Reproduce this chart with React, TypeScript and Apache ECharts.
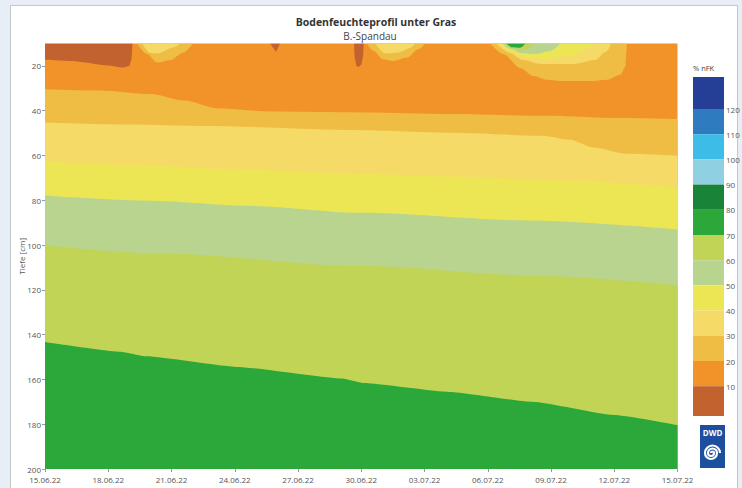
import React, { useEffect, useRef } from "react";
import * as echarts from "echarts";

// ---------- data ----------
// x: days after 15.06.22, y: depth in cm
const DATE_LABELS = ["15.06.22", "18.06.22", "21.06.22", "24.06.22", "27.06.22", "30.06.22", "03.07.22", "06.07.22", "09.07.22", "12.07.22", "15.07.22"];
const Y_TICKS = [20, 40, 60, 80, 100, 120, 140, 160, 180, 200];

// class colours, index 0 = <10 % nFK ... index 12 = >120 % nFK
const CLASS_COLORS = ["#c1622f", "#f2932a", "#efbd43", "#f5da68", "#ece655", "#b8d48f", "#c1d455", "#2ca739", "#198437", "#8fd1e2", "#3dbce8", "#2e7bc0", "#253f97"];
const CLASS_LIMITS = [10, 20, 30, 40, 50, 60, 70, 80, 90, 100, 110, 120];

// upper edges of the horizontal bands (depth where the class begins)
const EDGE_20 = [[0, 30.4], [2.6, 31], [5, 32.6], [6.6, 35.5], [8.2, 39], [10.8, 40.4], [15, 40.8], [19.2, 41.5], [23.6, 42.3], [27.3, 43.3], [30, 43.8]];
const EDGE_30 = [[0, 45.3], [4, 46.2], [7.4, 46.8], [15, 48.7], [19.2, 49.8], [23.6, 51.2], [24.9, 53], [26, 56.4], [27.6, 59.2], [30, 60.1]];
const EDGE_40 = [[0, 62.6], [5, 64.6], [9.7, 66.5], [15, 68.3], [19.7, 69.5], [24.4, 71.2], [30, 74.2]];
const EDGE_50 = [[0, 77.9], [5, 80.2], [9.7, 82.5], [15, 85.6], [22.9, 89], [30, 93]];
const EDGE_60 = [[0, 100.2], [5.6, 103.9], [15.1, 109.4], [23.1, 113.6], [30, 118]];
const EDGE_70 = [[0, 143.3], [3.65, 147.7], [4.8, 149.7], [9.1, 154.4], [14.1, 159.6], [15.1, 161.6], [19.2, 165.6], [23.1, 170], [27, 175.9], [30, 180.4]];

// features hanging from the surface (lower edges)
const BROWN_LEFT = [[0, 17.3], [1.5, 18], [3, 19.8], [3.7, 20.7], [4.0, 20], [4.1, 17], [4.15, 10]];
const GOLD_B1 = [[4.37, 10], [4.84, 14.7], [5.32, 18.5], [5.93, 17.5], [6.55, 14.1], [7.02, 10]];
const LIGHT_B1 = [[4.6, 10], [4.98, 14.1], [5.36, 14.5], [6.07, 11.8], [6.41, 10]];
const BROWN_TOOTH = [[10.68, 10], [10.96, 13.8], [11.15, 10]];
const BROWN_DRIP = [[14.66, 10], [14.7, 17], [14.78, 20], [14.88, 20.4], [15.0, 19.5], [15.08, 16], [15.12, 10]];
const GOLD_B2 = [[15.28, 10], [15.57, 13.3], [16.04, 17], [16.52, 17.8], [17.18, 16.3], [17.7, 12.6], [18.03, 10]];
const LIGHT_B2 = [[15.66, 10], [16.14, 14.5], [16.76, 14], [17.32, 12], [17.56, 10]];
const GOLD_B3 = [[21.12, 10], [21.74, 14.7], [22.54, 20.9], [23.16, 24.5], [23.83, 26.2], [24.44, 26.7], [26.01, 26.7], [26.67, 26.2], [27.29, 24], [27.53, 20.4], [27.58, 13.3], [27.6, 10]];
const LIGHT_B3 = [[21.4, 10], [22.07, 14.2], [22.64, 17.3], [23.49, 19.1], [25.15, 19.1], [26.1, 17.3], [26.62, 13.7], [26.86, 10]];
const YELLOW_B3 = [[21.6, 10], [22.07, 13.3], [22.78, 16], [23.73, 16.9], [24.92, 15.5], [25.86, 11.8], [26.1, 10]];
const PALEGREEN_B3 = [[21.69, 10], [22.07, 12.4], [22.54, 14.2], [23.25, 14.7], [23.97, 13.3], [24.44, 10]];
const OLIVE_B3 = [[21.78, 10], [22.16, 12], [22.78, 12.9], [23.16, 10]];
const GREEN_B3 = [[21.88, 10], [22.16, 11.7], [22.54, 11.9], [22.78, 10]];

// ---------- helpers ----------
const SPIRAL_D = "M0 0 A1.5 1.5 0 0 1 3 0 A3 3 0 0 1 -3 0 A4.5 4.5 0 0 1 6 0 A6 6 0 0 1 -6 0 A7.5 7.5 0 0 1 9 0";
echarts.graphic.registerShape("dwdSpiral", echarts.graphic.extendPath(SPIRAL_D, {}));

function area(name: string, data: number[][], cls: number, origin: "start" | "end", smooth = 0.3) {
  return {
    type: "line",
    name,
    data,
    symbol: "none",
    smooth,
    smoothMonotone: "x",
    silent: true,
    lineStyle: { width: 0, opacity: 0 },
    areaStyle: { color: CLASS_COLORS[cls], opacity: 1, origin },
  };
}

const FONT = '"Open Sans", "Liberation Sans", sans-serif';

function legendGraphics() {
  const els: any[] = [];
  const x = 693, w = 31, top = 77, step = 25.2, bottom = 416;
  const yOf = (lim: number) => top + 32 + ((120 - lim) / 10) * step;
  for (let c = 12; c >= 0; c--) {
    const y0 = c === 12 ? top : yOf(CLASS_LIMITS[c]);
    const y1 = c === 0 ? bottom : yOf(CLASS_LIMITS[c - 1]);
    els.push({ type: "rect", shape: { x, y: y0, width: w, height: y1 - y0 }, style: { fill: CLASS_COLORS[c] }, silent: true });
  }
  CLASS_LIMITS.forEach((lim) => {
    els.push({ type: "text", x: x + w + 2, y: yOf(lim), style: { text: String(lim), font: `8px ${FONT}`, fill: "#555", align: "left", verticalAlign: "middle" }, silent: true });
  });
  els.push({ type: "text", x: 693, y: 68, style: { text: "% nFK", font: `7.5px ${FONT}`, fill: "#444", align: "left", verticalAlign: "middle" }, silent: true });
  // DWD logo
  els.push({ type: "rect", shape: { x: 700, y: 425, width: 25, height: 43 }, style: { fill: "#1c4f9e" }, silent: true });
  els.push({ type: "text", x: 712.5, y: 432, style: { text: "DWD", font: `bold 8px ${FONT}`, fill: "#fff", align: "center", verticalAlign: "middle" }, silent: true });
  els.push({ type: "dwdSpiral", x: 711, y: 453, scaleX: 1, scaleY: 1, style: { fill: "none", stroke: "#fff", lineWidth: 2.2 }, silent: true });
  // titles
  els.push({ type: "text", x: 376, y: 22, style: { text: "Bodenfeuchteprofil unter Gras", font: `bold 10.5px ${FONT}`, fill: "#333", align: "center", verticalAlign: "middle" }, silent: true });
  els.push({ type: "text", x: 370, y: 35.5, style: { text: "B.-Spandau", font: `10px ${FONT}`, fill: "#444", align: "center", verticalAlign: "middle" }, silent: true });
  return els;
}

export default function App() {
  const ref = useRef<HTMLDivElement>(null);
  useEffect(() => {
    const chart = echarts.init(ref.current!, null, { renderer: "svg" });
    chart.setOption({
      animation: false,
      backgroundColor: "transparent",
      grid: { left: 45, right: 64.5, top: 43.5, bottom: 19, show: true, backgroundColor: CLASS_COLORS[1], borderWidth: 0 },
      xAxis: {
        type: "value",
        min: 0,
        max: 30,
        interval: 3,
        axisLine: { show: false },
        axisTick: { show: true, length: 3, lineStyle: { color: "#999" } },
        splitLine: { show: false },
        axisLabel: { fontSize: 8, fontFamily: FONT, color: "#555", margin: 6, formatter: (v: number) => DATE_LABELS[Math.round(v / 3)] ?? "" },
      },
      yAxis: {
        type: "value",
        inverse: true,
        min: 10,
        max: 200,
        name: "Tiefe [cm]",
        nameLocation: "middle",
        nameGap: 20,
        nameRotate: 90,
        nameMoveOverlap: false,
        nameTextStyle: { fontSize: 8, fontFamily: FONT, color: "#555" },
        axisLine: { show: false },
        splitLine: { show: false },
        axisTick: { show: true, length: 3, lineStyle: { color: "#999" }, customValues: Y_TICKS },
        axisLabel: { fontSize: 8, fontFamily: FONT, color: "#555", margin: 4, customValues: Y_TICKS },
      },
      graphic: { elements: legendGraphics() },
      series: [
        area("20-30", EDGE_20, 2, "end"),
        area("30-40", EDGE_30, 3, "end"),
        area("40-50", EDGE_40, 4, "end"),
        area("50-60", EDGE_50, 5, "end"),
        area("60-70", EDGE_60, 6, "end"),
        area("70-80", EDGE_70, 7, "end", 0.15),
        area("brown-left", BROWN_LEFT, 0, "start", 0.2),
        area("gold-b1", GOLD_B1, 2, "start"),
        area("light-b1", LIGHT_B1, 3, "start"),
        area("brown-tooth", BROWN_TOOTH, 0, "start", 0),
        area("brown-drip", BROWN_DRIP, 0, "start"),
        area("gold-b2", GOLD_B2, 2, "start"),
        area("light-b2", LIGHT_B2, 3, "start"),
        area("gold-b3", GOLD_B3, 2, "start"),
        area("light-b3", LIGHT_B3, 3, "start"),
        area("yellow-b3", YELLOW_B3, 4, "start"),
        area("palegreen-b3", PALEGREEN_B3, 5, "start"),
        area("olive-b3", OLIVE_B3, 6, "start"),
        area("green-b3", GREEN_B3, 7, "start"),
      ],
    });
    return () => chart.dispose();
  }, []);
  return (
    <div style={{ position: "fixed", left: 0, top: 0, width: 742, height: 488, background: "#e8eef5", overflow: "hidden" }}>
      <div style={{ position: "absolute", left: 10, top: 5, width: 728, height: 500, background: "#fff", border: "1px solid #c4c9cf", boxSizing: "border-box" }} />
      <div ref={ref} style={{ position: "absolute", left: 0, top: 0, width: 742, height: 488 }} />
    </div>
  );
}
